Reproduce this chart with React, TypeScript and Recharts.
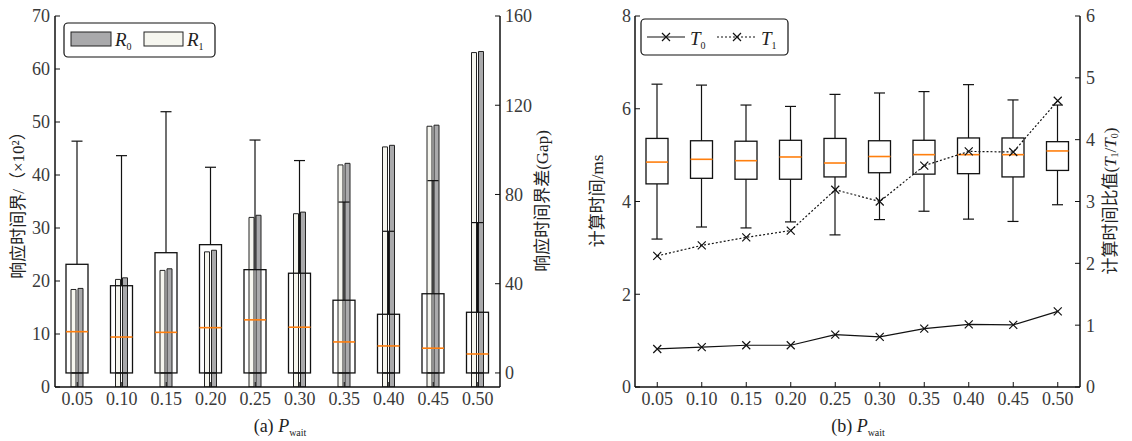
import React from 'react';
import { ComposedChart, Bar, Line, XAxis, YAxis } from 'recharts';

const categories = ['0.05', '0.10', '0.15', '0.20', '0.25', '0.30', '0.35', '0.40', '0.45', '0.50'];

// (a) response-time bound (x10^2), left axis
const r0Bound = [18.6, 20.6, 22.3, 25.8, 32.4, 33.0, 42.2, 45.6, 49.4, 63.3];
const r1Bound = [18.4, 20.3, 22.0, 25.5, 32.0, 32.7, 41.9, 45.3, 49.2, 63.1];
// (a) bound gap box plot, right axis
const gapLow = [0, 0, 0, 0, 0, 0, 0, 0, 0, 0];
const gapQ1 = [0, 0, 0, 0, 0, 0, 0, 0, 0, 0];
const gapMedian = [18.5, 16.1, 18.2, 20.3, 23.8, 20.5, 13.9, 12.1, 11.1, 8.5];
const gapQ3 = [48.7, 39.1, 53.9, 57.5, 46.3, 44.7, 32.6, 26.3, 35.5, 27.2];
const gapHigh = [103.9, 97.4, 117.1, 92.2, 104.4, 95.2, 76.6, 63.5, 86.2, 67.4];

// (b) computation time box plot (ms), left axis
const timeLow = [3.19, 3.45, 3.43, 3.56, 3.28, 3.61, 3.79, 3.62, 3.57, 3.93];
const timeQ1 = [4.38, 4.5, 4.48, 4.48, 4.53, 4.62, 4.59, 4.6, 4.53, 4.67];
const timeMedian = [4.85, 4.91, 4.88, 4.96, 4.83, 4.97, 5.01, 5.01, 5.01, 5.09];
const timeQ3 = [5.36, 5.31, 5.3, 5.32, 5.36, 5.31, 5.32, 5.37, 5.37, 5.29];
const timeHigh = [6.53, 6.51, 6.08, 6.05, 6.31, 6.34, 6.37, 6.52, 6.19, 6.08];
// (b) T0 (ms, left axis) and T1 (right axis)
const t0 = [0.82, 0.86, 0.9, 0.9, 1.13, 1.08, 1.26, 1.35, 1.34, 1.63];
const t1 = [2.12, 2.29, 2.42, 2.53, 3.19, 3.0, 3.58, 3.81, 3.8, 4.63];

const leftTicksA = [0, 10, 20, 30, 40, 50, 60, 70];
const rightTicksA = [0, 40, 80, 120, 160];
const leftTicksB = [0, 2, 4, 6, 8];
const rightTicksB = [0, 1, 2, 3, 4, 5, 6];

const dataA = categories.map((cat, i) => ({
  cat,
  r0: r0Bound[i],
  r1: r1Bound[i],
  lo: gapLow[i],
  q1: gapQ1[i],
  med: gapMedian[i],
  q3: gapQ3[i],
  hi: gapHigh[i],
}));

const dataB = categories.map((cat, i) => ({
  cat,
  lo: timeLow[i],
  q1: timeQ1[i],
  med: timeMedian[i],
  q3: timeQ3[i],
  hi: timeHigh[i],
  t0: t0[i],
  t1: t1[i],
}));

const serif = "'Liberation Serif', 'Noto Sans CJK SC', serif";
const tickStyle = { fill: '#3a3a3a', fontSize: 18, fontFamily: serif };
const ink = '#111';

// box plot drawn from a range bar [q1, q3]; other stats use the same pixel scale
const BoxShape = (props: any) => {
  const { x, y, width, height, payload } = props;
  if (x == null || y == null || !payload) return null;
  const top = Math.min(y, y + height);
  const h = Math.abs(height);
  const span = payload.q3 - payload.q1;
  const k = span > 0 ? h / span : 0;
  const py = (v: number) => top + (payload.q3 - v) * k;
  const cx = x + width / 2;
  const cap = width / 4;
  const yHi = py(payload.hi);
  const yLo = py(payload.lo);
  const yMed = py(payload.med);
  return (
    <g>
      <line x1={cx} x2={cx} y1={yHi} y2={top} stroke={ink} strokeWidth={1.2} />
      <line x1={cx - cap} x2={cx + cap} y1={yHi} y2={yHi} stroke={ink} strokeWidth={1.2} />
      <line x1={cx} x2={cx} y1={top + h} y2={yLo} stroke={ink} strokeWidth={1.2} />
      <line x1={cx - cap} x2={cx + cap} y1={yLo} y2={yLo} stroke={ink} strokeWidth={1.2} />
      <rect x={x} y={top} width={width} height={h} fill="none" stroke={ink} strokeWidth={1.3} />
      <line x1={x} x2={x + width} y1={yMed} y2={yMed} stroke="#ff7f0e" strokeWidth={1.6} />
    </g>
  );
};

const XMark = (props: any) => {
  const { cx, cy, index } = props;
  if (cx == null || cy == null) return <g key={index} />;
  const s = 4;
  return (
    <path
      key={index}
      d={`M${cx - s},${cy - s}L${cx + s},${cy + s}M${cx - s},${cy + s}L${cx + s},${cy - s}`}
      stroke={ink}
      strokeWidth={1.2}
      fill="none"
    />
  );
};

function PanelA() {
  return (
    <ComposedChart
      width={566}
      height={441}
      data={dataA}
      barGap={2}
      margin={{ top: 16, right: 0, bottom: 24, left: 0 }}
    >
      <XAxis
        xAxisId="main"
        dataKey="cat"
        height={30}
        tick={tickStyle}
        tickSize={-5}
        tickMargin={10}
        axisLine={{ stroke: ink, strokeWidth: 1.5 }}
        tickLine={{ stroke: ink }}
        interval={0}
      />
      <XAxis
        xAxisId="box"
        dataKey="cat"
        orientation="top"
        height={0}
        tick={false}
        tickLine={false}
        axisLine={{ stroke: ink, strokeWidth: 1.5 }}
      />
      <YAxis
        yAxisId="bound"
        width={55}
        domain={[0, 70]}
        ticks={leftTicksA}
        tick={tickStyle}
        tickSize={-5}
        tickMargin={10}
        axisLine={{ stroke: ink, strokeWidth: 1.5 }}
        tickLine={{ stroke: ink }}
        allowDataOverflow
      />
      <YAxis
        yAxisId="gap"
        orientation="right"
        width={66}
        domain={[-6.3, 160]}
        ticks={rightTicksA}
        tick={tickStyle}
        tickSize={-5}
        tickMargin={10}
        axisLine={{ stroke: ink, strokeWidth: 1.5 }}
        tickLine={{ stroke: ink }}
        allowDataOverflow
      />
      <Bar
        xAxisId="main"
        yAxisId="bound"
        dataKey="r1"
        barSize={5}
        fill="#f6f6ef"
        stroke="#222"
        strokeWidth={1}
        isAnimationActive={false}
      />
      <Bar
        xAxisId="main"
        yAxisId="bound"
        dataKey="r0"
        barSize={5}
        fill="#a9a9ab"
        stroke="#222"
        strokeWidth={1}
        isAnimationActive={false}
      />
      <Bar
        xAxisId="box"
        yAxisId="gap"
        dataKey={(d: any) => [d.q1, d.q3]}
        barSize={22}
        shape={BoxShape}
        isAnimationActive={false}
      />
    </ComposedChart>
  );
}

function PanelB() {
  return (
    <ComposedChart
      width={566}
      height={441}
      data={dataB}
      margin={{ top: 16, right: 0, bottom: 24, left: 0 }}
    >
      <XAxis
        xAxisId="main"
        dataKey="cat"
        height={30}
        tick={tickStyle}
        tickSize={-5}
        tickMargin={10}
        axisLine={{ stroke: ink, strokeWidth: 1.5 }}
        tickLine={{ stroke: ink }}
        interval={0}
      />
      <XAxis
        xAxisId="box"
        dataKey="cat"
        orientation="top"
        height={0}
        tick={false}
        tickLine={false}
        axisLine={{ stroke: ink, strokeWidth: 1.5 }}
      />
      <YAxis
        yAxisId="ms"
        width={69}
        domain={[0, 8]}
        ticks={leftTicksB}
        tick={tickStyle}
        tickSize={-5}
        tickMargin={9}
        axisLine={{ stroke: ink, strokeWidth: 1.5 }}
        tickLine={{ stroke: ink }}
        allowDataOverflow
      />
      <YAxis
        yAxisId="ratio"
        orientation="right"
        width={52}
        domain={[0, 6]}
        ticks={rightTicksB}
        tick={tickStyle}
        tickSize={-5}
        tickMargin={11}
        axisLine={{ stroke: ink, strokeWidth: 1.5 }}
        tickLine={{ stroke: ink }}
        allowDataOverflow
      />
      <Bar
        xAxisId="box"
        yAxisId="ms"
        dataKey={(d: any) => [d.q1, d.q3]}
        barSize={22}
        shape={BoxShape}
        isAnimationActive={false}
      />
      <Line
        xAxisId="main"
        yAxisId="ms"
        dataKey="t0"
        stroke={ink}
        strokeWidth={1.2}
        dot={(p: any) => <XMark key={p.index} {...p} />}
        activeDot={false}
        isAnimationActive={false}
      />
      <Line
        xAxisId="main"
        yAxisId="ratio"
        dataKey="t1"
        stroke={ink}
        strokeWidth={1.2}
        strokeDasharray="2 2"
        dot={(p: any) => <XMark key={p.index} {...p} />}
        activeDot={false}
        isAnimationActive={false}
      />
    </ComposedChart>
  );
}

const Sub = ({ children }: { children: React.ReactNode }) => (
  <tspan fontSize={10} dy={4} fontStyle="normal">
    {children}
  </tspan>
);

function Overlay() {
  const vt = (x: number, y: number) => `rotate(-90 ${x} ${y})`;
  const mark = (cx: number, cy: number) =>
    `M${cx - 4},${cy - 4}L${cx + 4},${cy + 4}M${cx - 4},${cy + 4}L${cx + 4},${cy - 4}`;
  return (
    <svg
      width={1132}
      height={441}
      style={{ position: 'absolute', left: 0, top: 0, pointerEvents: 'none' }}
      fontFamily={serif}
      fill="#222"
    >
      {/* axis titles */}
      <text x={18} y={201} transform={vt(18, 201)} textAnchor="middle" dominantBaseline="central" fontSize={17}>
        响应时间界/（×10²）
      </text>
      <text x={542} y={201} transform={vt(542, 201)} textAnchor="middle" dominantBaseline="central" fontSize={17}>
        响应时间界差(Gap)
      </text>
      <text x={597} y={201} transform={vt(597, 201)} textAnchor="middle" dominantBaseline="central" fontSize={17}>
        计算时间/ms
      </text>
      <text x={1110} y={201} transform={vt(1110, 201)} textAnchor="middle" dominantBaseline="central" fontSize={17}>
        计算时间比值(<tspan fontStyle="italic">T</tspan>
        <tspan fontSize={10} dy={4}>1</tspan>
        <tspan dy={-4}>/</tspan>
        <tspan fontStyle="italic">T</tspan>
        <tspan fontSize={10} dy={4}>0</tspan>
        <tspan dy={-4}>)</tspan>
      </text>

      {/* captions */}
      <text x={280} y={432} textAnchor="middle" fontSize={18}>
        (a) <tspan fontStyle="italic">P</tspan>
        <Sub>wait</Sub>
      </text>
      <text x={858} y={432} textAnchor="middle" fontSize={18}>
        (b) <tspan fontStyle="italic">P</tspan>
        <Sub>wait</Sub>
      </text>

      {/* legend (a) */}
      <rect x={64} y={23} width={151} height={34} rx={4} fill="#fff" stroke={ink} strokeWidth={1.2} />
      <rect x={71} y={32} width={40} height={14} fill="#a9a9ab" stroke="#222" strokeWidth={1} />
      <text x={115} y={46} fontSize={19} fontStyle="italic">
        R<Sub>0</Sub>
      </text>
      <rect x={144} y={32} width={39} height={14} fill="#f6f6ef" stroke="#222" strokeWidth={1} />
      <text x={187} y={46} fontSize={19} fontStyle="italic">
        R<Sub>1</Sub>
      </text>

      {/* legend (b) */}
      <rect x={641} y={19} width={147} height={36} rx={4} fill="#fff" stroke={ink} strokeWidth={1.2} />
      <line x1={647} x2={685} y1={37} y2={37} stroke={ink} strokeWidth={1.2} />
      <path d={mark(666, 37)} stroke={ink} strokeWidth={1.2} fill="none" />
      <text x={690} y={45} fontSize={19} fontStyle="italic">
        T<Sub>0</Sub>
      </text>
      <line x1={717} x2={757} y1={37} y2={37} stroke={ink} strokeWidth={1.2} strokeDasharray="2 2" />
      <path d={mark(737, 37)} stroke={ink} strokeWidth={1.2} fill="none" />
      <text x={761} y={45} fontSize={19} fontStyle="italic">
        T<Sub>1</Sub>
      </text>
    </svg>
  );
}

export default function App() {
  return (
    <div style={{ position: 'absolute', left: 0, top: 0, width: 1132, height: 441, background: '#fff' }}>
      <div style={{ position: 'absolute', left: 0, top: 0 }}>
        <PanelA />
      </div>
      <div style={{ position: 'absolute', left: 566, top: 0 }}>
        <PanelB />
      </div>
      <Overlay />
    </div>
  );
}
